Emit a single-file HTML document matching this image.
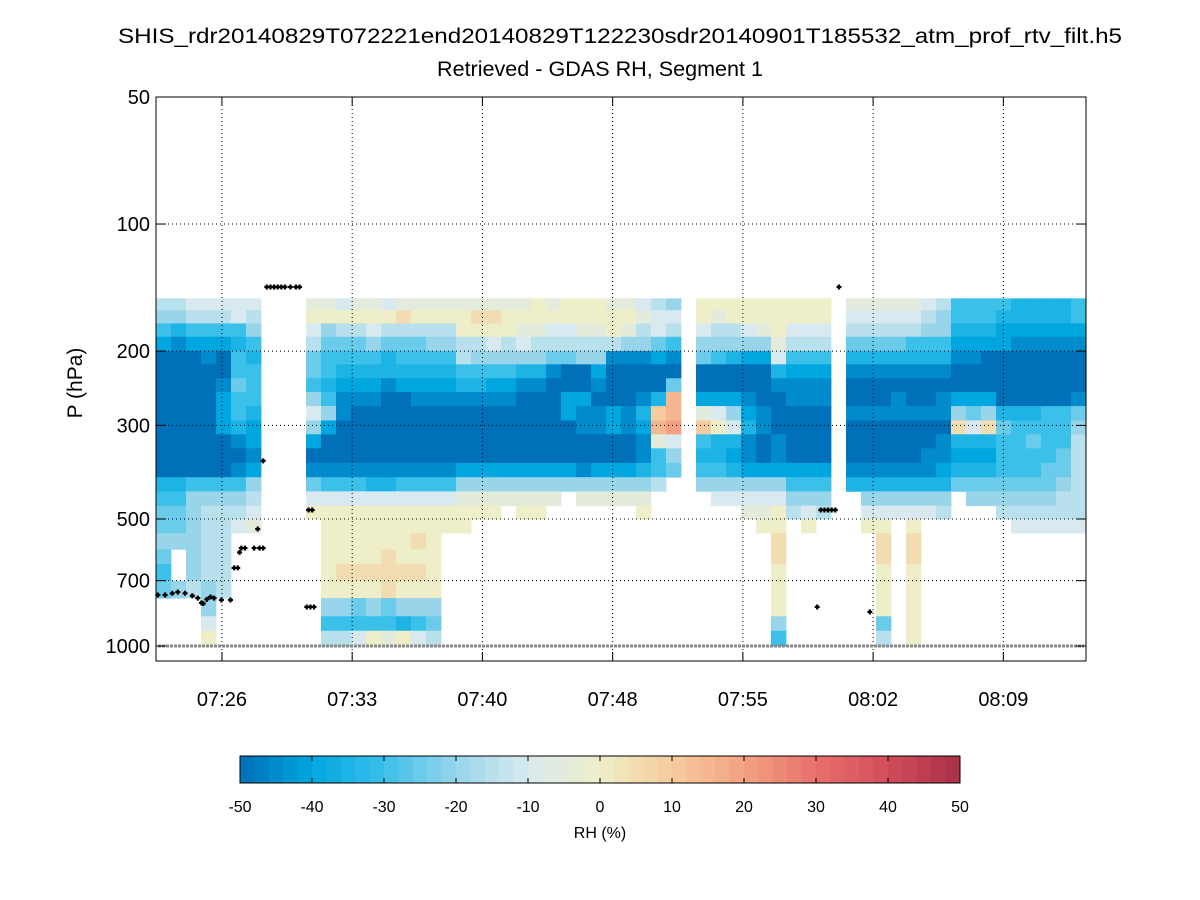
<!DOCTYPE html>
<html><head><meta charset="utf-8"><style>
html,body{margin:0;padding:0;background:#fff;}
svg{display:block;font-family:"Liberation Sans",sans-serif;}
</style></head><body>
<svg id="chart" width="1200" height="900" viewBox="0 0 1200 900">
<text x="620" y="43" font-size="21" text-anchor="middle" textLength="1004" lengthAdjust="spacingAndGlyphs">SHIS_rdr20140829T072221end20140829T122230sdr20140901T185532_atm_prof_rtv_filt.h5</text>
<text x="600" y="76" font-size="21" text-anchor="middle" textLength="326" lengthAdjust="spacingAndGlyphs">Retrieved - GDAS RH, Segment 1</text>
<text transform="translate(82,383) rotate(-90)" font-size="21" text-anchor="middle">P (hPa)</text>
<g id="heat"></g>
<g id="grid"></g>
<g id="marks"></g>
<rect x="156" y="97" width="930" height="564" fill="none" stroke="#000" stroke-width="1"/>
<g id="axes"></g>
<g id="cbar"></g>
<text x="600" y="838" font-size="16" text-anchor="middle">RH (%)</text>
</svg>
<script>
const NS="http://www.w3.org/2000/svg";
// ---- data ----
const timeSpanMin = 51.2;          // minutes from 07:22:22
const colWidthMin = 0.8258;
const xTickMinutes = [3.63,10.8,17.97,25.14,32.31,39.48,46.65];
const xTickLabels = ["07:26","07:33","07:40","07:48","07:55","08:02","08:09"];
const yTickValues = [50,100,200,300,500,700,1000];
const pressureEdges = [150,160,172,185,200,215,232,250,270,292,315,340,368,398,430,465,500,540,590,640,700,770,850,920,1000];
const valueCodes = "abcdefghijklmnopqrstu"; // a=-50 ... u=+50 step 5
const columns = [
"hgecaaaaaaaaadeffgfef...",
"hgdbaaaaaaaaadeffg..g...",
"ihecaaaaaaaaaeggggggh...",
"ihecbaaaaaaaaeghhhhhggik",
"ihecaabcccaaaeghhhhhh...",
"iiedeefeedbabeghi.......",
"ihgedeeedccbcghij.......",
"........................",
"........................",
"........................",
"jkihffegigcabfik........",
"jkgfeedegcaabeikkkkkkgeh",
"ikhfedcbbaaabeikkkklkgeh",
"jkhfedcbaaaabeikkkklkfei",
"jkigedcbaaaabdikkkklkgek",
"ikhfddbaaaaabdikkklllfej",
"jlhfedcaaaaabeikkkklkgdk",
"jkhfedcbaaaabeikklklkgei",
"jkhgedcbaaaabeikkkkkkgfh",
"jkhgedcbaaaabeikk.......",
"jkkhhedbaaaacgjkk.......",
"jlkhgedbaaaacgjk........",
"jlkigecbaaaacgjk........",
"jkkhgecbaaaacgj.........",
"jkjigdbaaaaacgjk........",
"kkjhgdbaaaaacgjk........",
"jkihfbaaaaaacgj.........",
"kkihfaaccaaacg..........",
"kkjhgaacbbaabgj.........",
"kkjhgcbabbaacgj.........",
"jkkhbaaaccaacgj.........",
"jkjgbaaabbaacgj.........",
"ijhgbaabdcbbdgjk........",
"hiifcaadmnjeeh..........",
"gihebafnnoigf...........",
"........................",
"kkigfaacjmedeg..........",
"kjhgeaacikddegi.........",
"kkhgdaacgidcdgi.........",
"kkigcaabcdbbcgij........",
"kkjgcaaabbaacgijk.......",
"kkkjidbaaabbcgikkllkkkge",
"kkihecbbaaaacegh........",
"kkihecbbaaaacegik.......",
"kkihecbbaaaacegh........",
"........................",
"jihfdbaabaaabd..........",
"jihfdbaabaaabdgik.......",
"jihfdbaabaaabdgikllkkkfh",
"jihfdbabbaaabdgi........",
"jihedbaabaaabdgikllkkkkk",
"ihgedbaabaabbdgi........",
"hggedbabbabbcdgh........",
"eedcbaacgldcdf..........",
"eedcbaacfidcdfg.........",
"eedcaaacgldcdfg.........",
"edccaaaadfeeefgh........",
"ddcbaaaadeeeefghi.......",
"ddcbaaaadefeefghi.......",
"ddcbaaaaeeeeffghi.......",
"ddcbaaaaeeeffghhi.......",
"eecbaaabfghhhhhhi......."
];
const markerTimes = [0.1,0.5,0.9,1.2,1.6,2.0,2.3,2.5,2.6,2.8,3.0,3.2,3.6,4.1,4.3,4.5,4.7,4.9,5.4,5.7,5.9,4.6,5.6,
  5.9,6.1,6.3,6.5,6.7,6.9,7.1,7.4,7.7,7.9,8.4,8.6,36.6,36.8,37.0,37.2,37.4,37.6,36.4,39.3];
const markerPressures = [757,757,750,745,750,760,770,790,793,775,765,770,778,778,653,653,586,586,586,586,586,600,528,
  364,141,141,141,141,141,141,141,141,141,476,476,476,476,476,476,476,141,808,830];
const extraMarkerTimes = [8.5,8.3,8.7];
const extraMarkerPressures = [808,808,808];
// colorbar stops
const cbarValues = [-50,-40,-30,-20,-10,0,10,20,30,40,50];
const cbarColors = ["#0070b8","#00a6df","#3bc0ea","#98d5eb","#d8eaef","#eeeec8","#f6cc9e","#f2a282","#e8706c","#d24c5a","#a83048"];
// ---- scales ----
const X0=156,X1=1086,Y0=97,Y1=661;
const xs = t => X0 + t*(X1-X0)/timeSpanMin;
const ys = p => Y0 + 422*Math.log10(p/50);
function hex(h){return [1,3,5].map(i=>parseInt(h.substr(i,2),16));}
function color(v){
  v=Math.max(-50,Math.min(50,v));
  let i=Math.min(9,Math.floor((v+50)/10));
  const f=(v-cbarValues[i])/10, a=hex(cbarColors[i]), b=hex(cbarColors[i+1]);
  return "rgb("+a.map((c,k)=>Math.round(c+(b[k]-c)*f)).join(",")+")";
}
function el(tag,attrs,parent){const e=document.createElementNS(NS,tag);for(const k in attrs)e.setAttribute(k,attrs[k]);parent.appendChild(e);return e;}
// ---- heatmap ----
const heat=document.getElementById("heat");
columns.forEach((col,i)=>{
  const xa=xs(i*colWidthMin), xb=xs((i+1)*colWidthMin);
  for(let r=0;r<col.length;r++){
    const ch=col[r]; if(ch===".") continue;
    const v=valueCodes.indexOf(ch)*5-50;
    const ya=ys(pressureEdges[r]), yb=ys(pressureEdges[r+1]);
    const c=el("rect",{x:xa.toFixed(2),y:ya.toFixed(2),width:(xb-xa+0.4).toFixed(2),height:(yb-ya+0.4).toFixed(2),fill:color(v)},heat);
    
    
  }
});
// ---- grid & axes ----
const grid=document.getElementById("grid"), axes=document.getElementById("axes");
xTickMinutes.forEach((t,i)=>{
  const x=xs(t);
  const g=el("line",{x1:x,x2:x,y1:Y0,y2:Y1,stroke:"#000","stroke-width":1,"stroke-dasharray":"1,3"},grid);
  
  
  el("line",{x1:x,x2:x,y1:Y1,y2:Y1-9,stroke:"#000"},axes);
  el("line",{x1:x,x2:x,y1:Y0,y2:Y0+9,stroke:"#000"},axes);
  const tx=el("text",{x:x,y:706,"font-size":20,"text-anchor":"middle"},axes);
  tx.textContent=xTickLabels[i];
  
  
});
yTickValues.forEach(p=>{
  const y=ys(p);
  if(p!==50){
    const g=el("line",{x1:X0,x2:X1,y1:y,y2:y,stroke:"#000","stroke-width":1,"stroke-dasharray":"1,3"},grid);
    
    
  }
  el("line",{x1:X0,x2:X0+10,y1:y,y2:y,stroke:"#000"},axes);
  el("line",{x1:X1,x2:X1-10,y1:y,y2:y,stroke:"#000"},axes);
  const tx=el("text",{x:150,y:y+7,"font-size":20,"text-anchor":"end"},axes);
  tx.textContent=String(p);
  
  
});
// ---- markers ----
const marks=document.getElementById("marks");
const surf=el("line",{x1:X0+2,x2:X1-2,y1:ys(1000),y2:ys(1000),stroke:"#888","stroke-width":3,"stroke-dasharray":"3,1"},marks);


function addMarker(t,p){
  const m=el("path",{d:`M${xs(t)-2.5},${ys(p)}h5M${xs(t)},${ys(p)-2.5}v5`,stroke:"#000","stroke-width":2.2},marks);
  
  
}
markerTimes.forEach((t,i)=>addMarker(t,markerPressures[i]));
extraMarkerTimes.forEach((t,i)=>addMarker(t,extraMarkerPressures[i]));
// ---- colorbar ----
const cb=document.getElementById("cbar");
const CX0=240,CX1=960,CY0=756,CY1=783,N=50;
for(let k=0;k<N;k++){
  const v=-50+(k+0.5)*100/N;
  const r=el("rect",{x:CX0+k*(CX1-CX0)/N,y:CY0,width:(CX1-CX0)/N+0.5,height:CY1-CY0,fill:color(v)},cb);
  
  
}
el("rect",{x:CX0,y:CY0,width:CX1-CX0,height:CY1-CY0,fill:"none",stroke:"#000"},cb);
cbarValues.forEach(v=>{
  const x=CX0+(v+50)*(CX1-CX0)/100;
  el("line",{x1:x,x2:x,y1:CY0,y2:CY0+5,stroke:"#000"},cb);
  el("line",{x1:x,x2:x,y1:CY1,y2:CY1-5,stroke:"#000"},cb);
  const t=el("text",{x:x,y:812,"font-size":16,"text-anchor":"middle"},cb);
  t.textContent=String(v);
  
  
});
</script>
</body></html>
